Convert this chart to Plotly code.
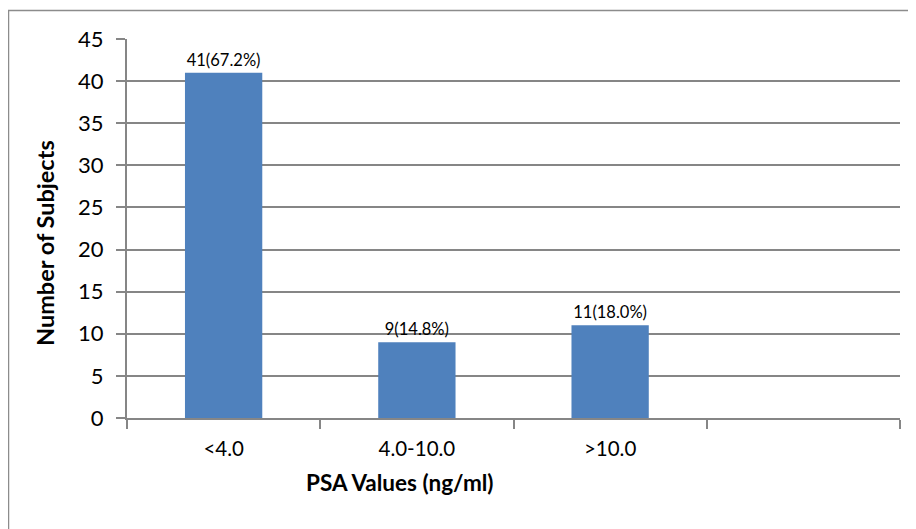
import plotly.graph_objects as go

categories = ["<4.0", "4.0-10.0", ">10.0"]
counts = [41, 9, 11]
percents = ["67.2%", "14.8%", "18.0%"]
y_ticks = [0, 5, 10, 15, 20, 25, 30, 35, 40, 45]

FONT = "Lato"
GRID = "#868686"

xpos = list(range(len(categories)))
labels = [f"{c}({p})" for c, p in zip(counts, percents)]

fig = go.Figure()
fig.add_trace(go.Bar(
    x=xpos, y=counts, width=0.4,
    marker=dict(color="#4F81BD", line=dict(width=0)),
    text=labels, textposition="outside", cliponaxis=False,
    textfont=dict(family=FONT, size=16.5, color="black"),
))

fig.update_layout(
    width=916, height=529,
    margin=dict(l=119, r=24, t=31, b=119),
    paper_bgcolor="white", plot_bgcolor="white",
    showlegend=False,
    font=dict(family=FONT, color="black"),
    xaxis=dict(
        range=[-0.5, 3.5], tickvals=xpos, ticktext=categories,
        ticks="", showgrid=False, zeroline=False,
        showline=True, linecolor=GRID, linewidth=2,
        tickfont=dict(family=FONT, size=20.5, color="black"),
        ticklabelstandoff=11,
        minor=dict(tickvals=[-0.5, 0.5, 1.5, 2.5, 3.5], ticks="outside",
                   ticklen=9, tickcolor=GRID, tickwidth=2, showgrid=False),
    ),
    yaxis=dict(
        range=[0, 45], tickvals=y_ticks, ticks="outside", ticklen=9,
        tickcolor=GRID, tickwidth=1.5,
        showgrid=True, gridcolor=GRID, gridwidth=1.5, zeroline=False,
        showline=True, linecolor=GRID, linewidth=2,
        tickfont=dict(family=FONT, size=22, color="black"),
        ticklabelstandoff=8,
    ),
    annotations=[
        dict(text="<b>PSA Values (ng/ml)</b>", xref="paper", yref="paper",
             x=(400 - 127) / 773, y=(418 - 482) / 379,
             xanchor="center", yanchor="middle",
             showarrow=False, font=dict(family=FONT, size=22.5, color="black")),
        dict(text="<b>Number of Subjects</b>", xref="paper", yref="paper",
             x=(45 - 127) / 773, y=(418 - 243) / 379,
             xanchor="center", yanchor="middle",
             textangle=-90, showarrow=False,
             font=dict(family=FONT, size=23.5, color="black")),
    ],
    shapes=[
        dict(type="rect", xref="paper", yref="paper",
             x0=(8.5 - 127) / 773, x1=1.2, y0=-0.5, y1=(418 - 10.5) / 379,
             line=dict(color="#8C8C8C", width=1.5), fillcolor="rgba(0,0,0,0)",
             layer="below"),
    ],
)

fig.write_html("out.html")
